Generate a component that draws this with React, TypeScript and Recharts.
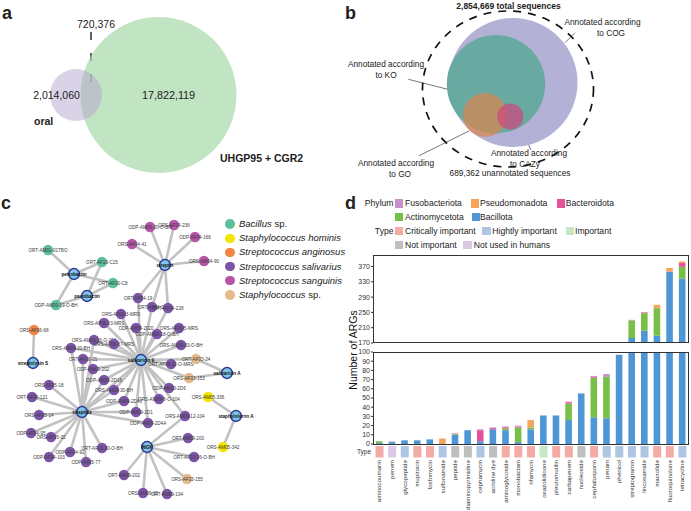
import React from 'react';
import { BarChart, Bar, XAxis, YAxis, Cell, ScatterChart, Scatter, ReferenceLine } from 'recharts';

const FONT = '"Liberation Sans", Arial, Helvetica, sans-serif';
const INK = '#222';

// ---------- panel d: ARGs per drug class ----------
const drugClasses = [
  'aminocoumarin', 'penem', 'glycopeptide', 'mupirocin', 'fosfomycin', 'sulfonamide', 'peptide',
  'diaminopyrimidine', 'cephamycin', 'acridine dye', 'aminoglycoside', 'monobactam', 'rifamycin',
  'oxazolidinone', 'pleuromutilin', 'carbapenem', 'nucleoside', 'cephalosporin', 'penam', 'phenicol',
  'streptogramin', 'lincosamide', 'macrolide', 'fluoroquinolone', 'tetracycline',
];
const drugType = [
  'critical', 'notUsed', 'high', 'critical', 'critical', 'high', 'notImp', 'notImp', 'high', 'notImp',
  'critical', 'critical', 'critical', 'important', 'critical', 'critical', 'notImp', 'critical', 'high',
  'high', 'high', 'high', 'critical', 'critical', 'high',
];
const bacillota = [1, 2, 4, 4, 5, 0, 10, 15, 3, 16, 15, 2, 16, 31, 31, 26, 55, 29, 28, 97, 183, 202, 189, 356, 338];
const actinomycetota = [2, 0, 0, 0, 0, 0, 0.7, 0, 0, 0, 2, 16, 2, 0, 0, 18, 0, 43, 45, 0, 46, 46, 72, 0, 31];
const bacteroidota = [0, 0, 0, 0, 0, 0, 0, 0, 12, 1.3, 1.3, 1, 0, 0, 0, 1.5, 0, 1, 0, 0, 0, 2, 0, 1, 10];
const pseudomonadota = [0, 0, 0, 0, 0, 6, 0.7, 0, 0, 0, 0, 0, 8, 0, 0, 0, 0, 0, 0, 0, 0, 0, 9, 9, 4];
const fusobacteriota = [0, 0.8, 0, 0, 0, 0, 0.6, 0, 1, 0.7, 0.7, 1, 0, 0, 0, 0.5, 0, 1, 3, 0, 1.5, 1, 0, 0, 0];
const upperTicks = [170, 210, 250, 290, 330, 370];
const lowerTicks = [0, 10, 20, 30, 40, 50, 60, 70, 80, 90, 100];

const PHYLUM = [
  { key: 'Bacillota', color: '#4e96d5' },
  { key: 'Actinomycetota', color: '#77bf46' },
  { key: 'Bacteroidota', color: '#e6529a' },
  { key: 'Pseudomonadota', color: '#f5a55b' },
  { key: 'Fusobacteriota', color: '#c890c8' },
];
const TYPE_COLOR: Record<string, string> = {
  critical: '#f4aba6', high: '#aec6e3', important: '#c7e6c3', notImp: '#bfbfbf', notUsed: '#dac7e3',
};

const argRows = drugClasses.map((name, i) => ({
  name,
  Bacillota: bacillota[i],
  Actinomycetota: actinomycetota[i],
  Bacteroidota: bacteroidota[i],
  Pseudomonadota: pseudomonadota[i],
  Fusobacteriota: fusobacteriota[i],
  type: drugType[i],
  cell: 1,
}));

// ---------- panel a: Venn ----------
const vennA = [
  { name: 'UHGP95 + CGR2', x: 158.5, y: 95, r: 78, fill: '#a6d8a8', op: 0.7 },
  { name: 'oral', x: 76, y: 95, r: 26, fill: '#b6a6cf', op: 0.5 },
];

// ---------- panel b: annotation circles ----------
const vennB = [
  { name: 'COG', x: 513, y: 82.5, r: 64.5, fill: '#b3b1d6', op: 1 },
  { name: 'KO', x: 496, y: 84.2, r: 49.2, fill: '#68a9a1', op: 1 },
  { name: 'GO', x: 485, y: 115, r: 22, fill: '#d8874f', op: 0.72 },
  { name: 'CAZy', x: 510.3, y: 116.5, r: 13, fill: '#d0457f', op: 0.7 },
];
const totalRing = [{ x: 508, y: 89, rx: 85.5, ry: 78 }];
const leaders = [
  [[575, 32.7], [565, 42.7]],
  [[408.3, 79.3], [447.7, 89.3]],
  [[419, 155.7], [469, 131]],
  [[518.3, 124], [531, 150]],
];

// ---------- panel c: network ----------
const SPECIES = [
  { key: 'bacillus', label: 'Bacillus', suffix: ' sp.', color: '#5dbf9b' },
  { key: 'hominis', label: 'Staphylococcus hominis', suffix: '', color: '#f2e600' },
  { key: 'anginosus', label: 'Streptococcus anginosus', suffix: '', color: '#f08545' },
  { key: 'salivarius', label: 'Streptococcus salivarius', suffix: '', color: '#7d55a8' },
  { key: 'sanguinis', label: 'Streptococcus sanguinis', suffix: '', color: '#b656a8' },
  { key: 'staph', label: 'Staphylococcus', suffix: ' sp.', color: '#e3bc8d' },
];
const hubs = ['petrobactin', 'paenibactin', 'streptin', 'salivaricin 9', 'streptolysin S', 'salivaricin A', 'streptide', 'staphyloferrin A', 'WGK'];
const bacillusNodes = ['ORT-AM01-01TBO', 'ORT-AF10-C15', 'ORT-AF10-C8', 'ODP-AM09-19-O-BH'];
const hominisNodes = ['ORS-AM05-336', 'ORS-AM05-342'];
const anginosusNodes = ['ORS-AF06-68'];
const sanguinisNodes = ['ORS-AF04-236', 'ODP-AM09-20-O-BH', 'ODP-AF04-166', 'ORS-AF04-41', 'ORS-AM04-90'];
const staphNodes = ['ORT-AF03-24', 'ORS-AF03-153', 'ORS-AF03-155'];
const salivariusNodes = [
  'ORT-AF04-19', 'ORT-AF04-25', 'ORT-AF04-228', 'ORS-AF06-3-MRS', 'ORS-AF06-23-MRS', 'ODP-AM09-2020',
  'ORS-AF06-5-MRS', 'ODP-AM09-18-O-BH', 'ORS-AM09-16-O-204', 'ORS-AF06-37-MRS', 'ORS-AM09-20-BH',
  'ORS-AM09-33-O-BH', 'ORT-AF10-21', 'ORT-AF06-12-O-MRS', 'ODP-AM09-202', 'ODP-AM09-2D18', 'ORS-AF05-18',
  'ODP-AM09-2D6', 'ORS-AM09-30-BH', 'ORT-AF04-121', 'ORS-AM09-8-O-104', 'ODP-AM09-2D43', 'ODP-AM09-2D1',
  'ORS-AF05-14', 'ORS-AM09-12-104', 'ODP-AM09-2D4A', 'ODP-AF04-95', 'ORS-AF05-32', 'ORT-AM09-200',
  'ORT-AF10-30-O-BH', 'ODP-AF04-91', 'ODP-AF04-103', 'ORT-AF10-26-O-BH', 'ODP-AF05-77', 'ORT-AM09-202',
  'ORS-AM09-15', 'ORT-AM09-194',
];
const nodeXY: Record<string, [number, number]> = {
  petrobactin: [74, 274], paenibactin: [87, 296], streptin: [165, 265], 'salivaricin 9': [141, 360],
  'streptolysin S': [33, 363], 'salivaricin A': [227, 373], streptide: [82, 412], 'staphyloferrin A': [236, 416],
  WGK: [147, 447],
  'ORT-AM01-01TBO': [48, 250], 'ORT-AF10-C15': [102, 262], 'ORT-AF10-C8': [113, 283], 'ODP-AM09-19-O-BH': [56, 305],
  'ORS-AM05-336': [208, 397], 'ORS-AM05-342': [223, 447], 'ORS-AF06-68': [34, 330],
  'ORS-AF04-236': [174, 225], 'ODP-AM09-20-O-BH': [150, 227], 'ODP-AF04-166': [195, 237], 'ORS-AF04-41': [132, 244],
  'ORS-AM04-90': [204, 261], 'ORT-AF03-24': [196, 359], 'ORS-AF03-153': [189, 378], 'ORS-AF03-155': [187, 479],
  'ORT-AF04-19': [138, 298], 'ORT-AF04-25': [152, 307], 'ORT-AF04-228': [168, 308], 'ORS-AF06-3-MRS': [121, 314],
  'ORS-AF06-23-MRS': [104, 323], 'ODP-AM09-2020': [136, 328], 'ORS-AF06-5-MRS': [179, 328], 'ODP-AM09-18-O-BH': [157, 334],
  'ORS-AM09-16-O-204': [94, 340], 'ORS-AF06-37-MRS': [114, 344], 'ORS-AM09-20-BH': [71, 348], 'ORS-AM09-33-O-BH': [181, 345],
  'ORT-AF10-21': [83, 359], 'ORT-AF06-12-O-MRS': [171, 364], 'ODP-AM09-202': [93, 369], 'ODP-AM09-2D18': [104, 380],
  'ORS-AF05-18': [49, 385], 'ODP-AM09-2D6': [169, 388], 'ORS-AM09-30-BH': [114, 390], 'ORT-AF04-121': [32, 397],
  'ORS-AM09-8-O-104': [159, 399], 'ODP-AM09-2D43': [124, 401], 'ODP-AM09-2D1': [136, 412], 'ORS-AF05-14': [39, 415],
  'ORS-AM09-12-104': [185, 416], 'ODP-AM09-2D4A': [148, 423], 'ODP-AF04-95': [31, 433], 'ORS-AF05-32': [51, 437],
  'ORT-AM09-200': [188, 438], 'ORT-AF10-30-O-BH': [102, 448], 'ODP-AF04-91': [70, 452], 'ODP-AF04-103': [49, 457],
  'ORT-AF10-26-O-BH': [194, 457], 'ODP-AF05-77': [86, 462], 'ORT-AM09-202': [124, 475], 'ORS-AM09-15': [143, 493],
  'ORT-AM09-194': [167, 494],
};
const links: Record<string, string[]> = {
  petrobactin: ['ORT-AM01-01TBO', 'ORT-AF10-C15', 'ORT-AF10-C8', 'ODP-AM09-19-O-BH'],
  paenibactin: ['ORT-AF10-C15', 'ORT-AF10-C8', 'ODP-AM09-19-O-BH'],
  streptin: ['ORS-AF04-236', 'ODP-AM09-20-O-BH', 'ODP-AF04-166', 'ORS-AF04-41', 'ORS-AM04-90', 'ORT-AF04-19', 'ORT-AF04-25', 'ORT-AF04-228'],
  'salivaricin 9': [
    'ORT-AF04-19', 'ORT-AF04-25', 'ORT-AF04-228', 'ORS-AF06-3-MRS', 'ORS-AF06-23-MRS', 'ODP-AM09-2020', 'ORS-AF06-5-MRS',
    'ODP-AM09-18-O-BH', 'ORS-AM09-16-O-204', 'ORS-AF06-37-MRS', 'ORS-AM09-20-BH', 'ORS-AM09-33-O-BH', 'ORT-AF10-21',
    'ORT-AF06-12-O-MRS', 'ODP-AM09-202', 'ODP-AM09-2D18', 'ODP-AM09-2D6', 'ORS-AM09-30-BH', 'ORS-AM09-8-O-104',
    'ODP-AM09-2D43', 'ODP-AM09-2D1', 'ODP-AM09-2D4A', 'ORS-AM09-12-104', 'ORT-AF03-24', 'ORS-AF03-153', 'streptide',
  ],
  streptide: [
    'ORS-AF05-18', 'ORT-AF04-121', 'ORS-AF05-14', 'ODP-AF04-95', 'ORS-AF05-32', 'ODP-AF04-91', 'ODP-AF04-103',
    'ODP-AF05-77', 'ORT-AF10-30-O-BH', 'ORT-AF10-21', 'ODP-AM09-202', 'ODP-AM09-2D18', 'ORS-AM09-30-BH',
    'ODP-AM09-2D43', 'ODP-AM09-2D1', 'ODP-AM09-2D4A', 'ORS-AM09-20-BH', 'ORS-AM09-16-O-204',
  ],
  'salivaricin A': ['ORT-AF03-24', 'ORS-AF03-153'],
  'staphyloferrin A': ['ORS-AM05-336', 'ORS-AM05-342'],
  'streptolysin S': ['ORS-AF06-68'],
  WGK: ['ORS-AM09-12-104', 'ORT-AM09-200', 'ORT-AF10-26-O-BH', 'ORT-AM09-202', 'ORS-AF03-155', 'ORS-AM09-15', 'ORT-AM09-194'],
};

const groupNodes: Record<string, string[]> = {
  bacillus: bacillusNodes, hominis: hominisNodes, anginosus: anginosusNodes,
  salivarius: salivariusNodes, sanguinis: sanguinisNodes, staph: staphNodes,
};
const toPts = (names: string[]) => names.map((n) => ({ name: n, x: nodeXY[n][0], y: nodeXY[n][1] }));
const edges = Object.entries(links).flatMap(([h, ts]) => ts.map((t) => [h, t]));

// ---------- small helpers ----------
const T = ({ x, y, a = 'start', size = 8.4, bold = false, italic = false, color = INK, children }: any) => (
  <div
    style={{
      position: 'absolute', left: x, top: y, fontSize: size, lineHeight: 1, whiteSpace: 'nowrap', color,
      fontWeight: bold ? 700 : 400, fontStyle: italic ? 'italic' : 'normal',
      transform: `translate(${a === 'start' ? '0' : a === 'middle' ? '-50%' : '-100%'}, -50%)`,
    }}
  >
    {children}
  </div>
);

const Swatch = ({ x, y, color }: any) => (
  <div style={{ position: 'absolute', left: x, top: y - 4, width: 8.3, height: 8.3, background: color }} />
);

const circleShape = (p: any) => (
  <circle cx={p.cx} cy={p.cy} r={p.payload.r} fill={p.payload.fill} fillOpacity={p.payload.op} />
);

const nodeShape = (color: string) => (p: any) => (
  <g>
    <circle cx={p.cx} cy={p.cy} r={5.2} fill={color} />
    <text x={p.cx} y={p.cy} dy="0.35em" textAnchor="middle" fontSize={4.6} fill="#3a3a3a" fontFamily={FONT}>
      {p.payload.name}
    </text>
  </g>
);
const hubShape = (p: any) => (
  <g>
    <circle cx={p.cx} cy={p.cy} r={5.4} fill="#7fc6e8" stroke="#2c3894" strokeWidth={1.5} />
    <text x={p.cx} y={p.cy} dy="0.35em" textAnchor="middle" fontSize={4.6} fontWeight={700} fill="#111" fontFamily={FONT}>
      {p.payload.name}
    </text>
  </g>
);

const RotTick = (p: any) => (
  <text
    x={p.x} y={p.y} dy="0.35em" transform={`rotate(-90 ${p.x} ${p.y})`} textAnchor="end"
    fontSize={6.2} fill="#333" fontFamily={FONT}
  >
    {p.payload.value}
  </text>
);

const frame = (top: number, height: number) => (
  <div
    style={{
      position: 'absolute', left: 373, top, width: 315.5, height, boxSizing: 'border-box',
      border: '1.5px solid #333', pointerEvents: 'none',
    }}
  />
);

const stackBars = () =>
  PHYLUM.map((p) => (
    <Bar key={p.key} dataKey={p.key} stackId="a" fill={p.color} barSize={6.6} isAnimationActive={false} />
  ));

const PAD = 5;

export default function App() {
  return (
    <div
      style={{
        position: 'absolute', left: 0, top: 0, width: 691, height: 511, overflow: 'hidden',
        background: '#fff', fontFamily: FONT, color: INK,
      }}
    >
      {/* panel a */}
      <div style={{ position: 'absolute', left: 0, top: 0 }}>
        <ScatterChart width={345} height={185} margin={{ top: 0, right: 0, bottom: 0, left: 0 }}>
          <XAxis type="number" dataKey="x" domain={[0, 345]} hide />
          <YAxis type="number" dataKey="y" domain={[0, 185]} reversed hide />
          <Scatter data={vennA} shape={circleShape} isAnimationActive={false} />
          <ReferenceLine
            segment={[{ x: 91, y: 32 }, { x: 91, y: 84 }]}
            stroke="#111" strokeWidth={1.3} strokeDasharray="8 13"
          />
        </ScatterChart>
      </div>
      <T x={2} y={13} size={18} bold>a</T>
      <T x={96} y={23.5} a="middle" size={10.5}>720,376</T>
      <T x={56.5} y={95} a="middle" size={10.5}>2,014,060</T>
      <T x={168.5} y={95} a="middle" size={10.8}>17,822,119</T>
      <T x={34} y={120.5} size={10.5} bold>oral</T>
      <T x={220} y={157.5} size={10.5} bold>UHGP95 + CGR2</T>

      {/* panel b */}
      <div style={{ position: 'absolute', left: 345, top: 0 }}>
        <ScatterChart width={346} height={185} margin={{ top: 0, right: 0, bottom: 0, left: 0 }}>
          <XAxis type="number" dataKey="x" domain={[345, 691]} hide />
          <YAxis type="number" dataKey="y" domain={[0, 185]} reversed hide />
          <Scatter data={vennB} shape={circleShape} isAnimationActive={false} />
          <Scatter
            data={totalRing}
            isAnimationActive={false}
            shape={(p: any) => (
              <ellipse cx={p.cx} cy={p.cy} rx={p.payload.rx} ry={p.payload.ry} fill="none"
                stroke="#111" strokeWidth={1.7} strokeDasharray="8 7" />
            )}
          />
          {leaders.map((l, i) => (
            <ReferenceLine key={i} segment={[{ x: l[0][0], y: l[0][1] }, { x: l[1][0], y: l[1][1] }]} stroke="#555" strokeWidth={0.8} />
          ))}
        </ScatterChart>
      </div>
      <T x={345} y={13} size={18} bold>b</T>
      <T x={508.5} y={5.5} a="middle" size={8.5} bold>2,854,669 total sequences</T>
      <T x={602.5} y={22} a="middle" size={8.3}>Annotated according</T>
      <T x={611} y={32.5} a="middle" size={8.3}>to COG</T>
      <T x={386} y={64} a="middle" size={8.3}>Annotated according</T>
      <T x={386} y={74.5} a="middle" size={8.3}>to KO</T>
      <T x={396} y={163} a="middle" size={8.3}>Annotated according</T>
      <T x={400} y={173.5} a="middle" size={8.3}>to GO</T>
      <T x={529} y={153} a="middle" size={8.3}>Annotated according</T>
      <T x={525} y={163.5} a="middle" size={8.3}>to CAZy</T>
      <T x={510} y={172.5} a="middle" size={8.3}>689,362 unannotated sequences</T>

      {/* panel c */}
      <div style={{ position: 'absolute', left: 0, top: 185 }}>
        <ScatterChart width={345} height={326} margin={{ top: 0, right: 0, bottom: 0, left: 0 }}>
          <XAxis type="number" dataKey="x" domain={[0, 345]} hide />
          <YAxis type="number" dataKey="y" domain={[185, 511]} reversed hide />
          {edges.map(([a, b], i) => (
            <ReferenceLine
              key={i}
              segment={[{ x: nodeXY[a][0], y: nodeXY[a][1] }, { x: nodeXY[b][0], y: nodeXY[b][1] }]}
              stroke="#c2c2c2" strokeWidth={2.6}
            />
          ))}
          {SPECIES.map((s) => (
            <Scatter key={s.key} data={toPts(groupNodes[s.key])} shape={nodeShape(s.color)} isAnimationActive={false} />
          ))}
          <Scatter data={toPts(hubs)} shape={hubShape} isAnimationActive={false} />
        </ScatterChart>
      </div>
      <T x={1} y={203} size={18} bold>c</T>
      {SPECIES.map((s, i) => (
        <React.Fragment key={s.key}>
          <div
            style={{
              position: 'absolute', left: 225.3, top: 219.3 + i * 14.2, width: 9.4, height: 9.4,
              borderRadius: '50%', background: s.color,
            }}
          />
          <T x={239} y={224 + i * 14.2} size={9.5}>
            <i>{s.label}</i>{s.suffix}
          </T>
        </React.Fragment>
      ))}

      {/* panel d legend */}
      <T x={345} y={203} size={18} bold>d</T>
      <T x={393.5} y={203.3} a="end" size={8.6}>Phylum</T>
      <Swatch x={395} y={203.3} color="#c890c8" />
      <T x={405} y={203.3} size={8.6}>Fusobacteriota</T>
      <Swatch x={471} y={203.3} color="#f5a55b" />
      <T x={480} y={203.3} size={8.6}>Pseudomonadota</T>
      <Swatch x={556.7} y={203.3} color="#e6529a" />
      <T x={565.7} y={203.3} size={8.6}>Bacteroidota</T>
      <Swatch x={395} y={217} color="#77bf46" />
      <T x={405} y={217} size={8.6}>Actinomycetota</T>
      <Swatch x={471.5} y={217} color="#4e96d5" />
      <T x={480} y={217} size={8.6}>Bacillota</T>
      <T x={393.5} y={231} a="end" size={8.6}>Type</T>
      <Swatch x={395} y={231} color={TYPE_COLOR.critical} />
      <T x={405} y={231} size={8.6}>Critically important</T>
      <Swatch x={482.3} y={231} color={TYPE_COLOR.high} />
      <T x={492.3} y={231} size={8.6}>Hightly important</T>
      <Swatch x={565.7} y={231} color={TYPE_COLOR.important} />
      <T x={575} y={231} size={8.6}>Important</T>
      <Swatch x={395} y={245} color={TYPE_COLOR.notImp} />
      <T x={405} y={245} size={8.6}>Not important</T>
      <Swatch x={463.3} y={245} color={TYPE_COLOR.notUsed} />
      <T x={473.7} y={245} size={8.6}>Not used in humans</T>

      {/* panel d upper (broken) axis */}
      <div style={{ position: 'absolute', left: 351, top: 255 - PAD }}>
        <BarChart width={337.5} height={88 + 2 * PAD} data={argRows} margin={{ top: PAD, right: 0, bottom: PAD, left: 0 }}>
          <XAxis dataKey="name" hide />
          <YAxis
            domain={[170, 400]} allowDataOverflow ticks={upperTicks} interval={0} width={22}
            axisLine={false} tickSize={2} tickMargin={1} tick={{ fontSize: 7, fill: '#333' }}
            tickLine={{ stroke: '#333' }}
          />
          {stackBars()}
        </BarChart>
      </div>
      {frame(255, 88)}

      {/* panel d lower axis */}
      <div style={{ position: 'absolute', left: 351, top: 352 - PAD }}>
        <BarChart width={337.5} height={92 + 2 * PAD} data={argRows} margin={{ top: PAD, right: 0, bottom: PAD, left: 0 }}>
          <XAxis dataKey="name" hide />
          <YAxis
            domain={[0, 100]} allowDataOverflow ticks={lowerTicks} interval={0} width={22}
            axisLine={false} tickSize={2} tickMargin={1} tick={{ fontSize: 7, fill: '#333' }}
            tickLine={{ stroke: '#333' }}
          />
          {stackBars()}
        </BarChart>
      </div>
      {frame(352, 92.5)}

      {/* type strip + class labels */}
      <div style={{ position: 'absolute', left: 373, top: 446 }}>
        <BarChart width={315.5} height={64} data={argRows} barCategoryGap="20%" margin={{ top: 0, right: 0, bottom: 0, left: 0 }}>
          <XAxis
            dataKey="name" interval={0} height={52.5} axisLine={false} tickLine={false}
            tickSize={0} tickMargin={2.5} tick={RotTick}
          />
          <YAxis domain={[0, 1]} hide />
          <Bar dataKey="cell" isAnimationActive={false}>
            {argRows.map((r) => (
              <Cell key={r.name} fill={TYPE_COLOR[r.type]} />
            ))}
          </Bar>
        </BarChart>
      </div>
      <T x={357} y={452} size={6.5} color="#333">Type</T>
      <div
        style={{
          position: 'absolute', left: 352.5, top: 350, fontSize: 10.5, lineHeight: 1, whiteSpace: 'nowrap',
          transform: 'translate(-50%, -50%) rotate(-90deg)', color: '#111',
        }}
      >
        Number of ARGs
      </div>
    </div>
  );
}
